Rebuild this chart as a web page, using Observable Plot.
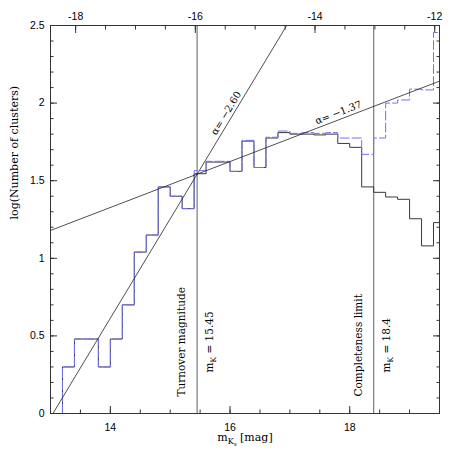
<!DOCTYPE html>
<html><head><meta charset="utf-8">
<script src="https://cdn.jsdelivr.net/npm/d3@7"></script>
<script src="https://cdn.jsdelivr.net/npm/@observablehq/plot@0.6"></script>
<style>
html,body{margin:0;padding:0;background:#fff;}
</style></head><body><div id="chart"></div>
<script>
// ---- data ----
const binStart = [13.0,13.2,13.4,13.6,13.8,14.0,14.2,14.4,14.6,14.8,15.0,15.2,15.4,15.6,15.8,16.0,16.2,16.4,16.6,16.8,17.0,17.2,17.4,17.6,17.8,18.0,18.2,18.4,18.6,18.8,19.0,19.2,19.4];
const binWidth = 0.2;
// log10(number of clusters), observed
const observedLog = [0,0.30,0.48,0.48,0.30,0.48,0.70,1.04,1.15,1.46,1.40,1.32,1.545,1.62,1.62,1.56,1.755,1.585,1.775,1.81,1.80,1.80,1.795,1.80,1.74,1.715,1.46,1.425,1.395,1.38,1.255,1.08,1.23];
// log10(number of clusters), completeness corrected
const correctedLog = [0,0.30,0.48,0.48,0.30,0.48,0.70,1.04,1.15,1.46,1.40,1.32,1.565,1.625,1.625,1.56,1.76,1.585,1.78,1.82,1.805,1.81,1.805,1.81,1.775,1.775,1.67,1.775,2.00,2.02,2.09,2.085,2.455];
// power-law fits through the turnover point
const fitAlpha = [-2.60, -1.37];
const fitLabelM = [16.03, 17.85];
const pivotM = 15.45, pivotLog = 1.542;
// vertical markers
const markerM = [15.45, 18.4];
const markerName = ["Turnover magnitude", "Completeness limit"];
const markerValue = ["m_{K} = 15.45", "m_{K} = 18.4"];
// axes
const distMod = 31.42;
const xLabelTicks = [14, 16, 18];
const xMinorTicks = [13.5,14,14.5,15,15.5,16,16.5,17,17.5,18,18.5,19,19.5];
const topLabelTicks = [-18, -16, -14, -12];
const topMinorTicks = [-18,-17.5,-17,-16.5,-16,-15.5,-15,-14.5,-14,-13.5,-13,-12.5,-12];
const yLabelTicks = [0, 0.5, 1, 1.5, 2, 2.5];
const yMinorTicks = d3.range(0, 26).map(i => i / 10);

// ---- layout ----
const W = 463, H = 463, mL = 50, mR = 24, mT = 25, mB = 50;
const xDom = [13, 19.5], yDom = [0, 2.5];
const pxX = (W - mL - mR) / (xDom[1] - xDom[0]);
const pxY = (H - mT - mB) / (yDom[1] - yDom[0]);

const hist = vals => binStart.map((m, i) => ({m, v: vals[i]}))
  .concat([{m: binStart[binStart.length - 1] + binWidth, v: vals[vals.length - 1]}]);
const fits = fitAlpha.map((a, i) => ({alpha: a, slope: -0.4 * (a + 1), labelM: fitLabelM[i]}));
const fitY = (f, m) => pivotLog + f.slope * (m - pivotM);
const fitLines = fits.flatMap((f, i) => xDom.map(m => ({id: i, m, v: fitY(f, m)})));
const fitLabels = fits.map(f => ({m: f.labelM, v: fitY(f, f.labelM),
  text: "α= −" + Math.abs(f.alpha).toFixed(2),
  rot: -Math.atan(f.slope * pxY / pxX) * 180 / Math.PI}));
const markers = markerM.map((m, i) => ({m, name: markerName[i], value: markerValue[i]}));

const sans = "Liberation Sans, Arial, sans-serif";
const serif = "DejaVu Serif, serif";
const axisCol = "#333";
const labelGap = 3.5;
const fitLabelMarks = fitLabels.map(l => Plot.text([l], {x: "m", y: "v", text: "text", rotate: l.rot,
  lineAnchor: "bottom", dx: labelGap * Math.sin(l.rot * Math.PI / 180), dy: -labelGap * Math.cos(l.rot * Math.PI / 180),
  fontFamily: serif, fontSize: 10, fill: "#000"}));

const plot = Plot.plot({
  width: W, height: H,
  marginLeft: mL, marginRight: mR, marginTop: mT, marginBottom: mB,
  x: {domain: xDom},
  y: {domain: yDom},
  style: {fontFamily: sans, fontSize: "10.5px", color: "#000", background: "#fff"},
  marks: [
    // ticks (inward)
    Plot.axisX(xLabelTicks, {anchor: "bottom", tickSize: -7, fill: null, stroke: axisCol, label: null}),
    Plot.axisX(xMinorTicks, {anchor: "bottom", tickSize: -3.5, fill: null, stroke: axisCol, label: null}),
    Plot.axisX(topLabelTicks.map(d => d + distMod), {anchor: "top", tickSize: -7, fill: null, stroke: axisCol, label: null}),
    Plot.axisX(topMinorTicks.map(d => d + distMod), {anchor: "top", tickSize: -3.5, fill: null, stroke: axisCol, label: null}),
    Plot.axisY(yLabelTicks, {anchor: "left", tickSize: -7, fill: null, stroke: axisCol, label: null}),
    Plot.axisY(yMinorTicks, {anchor: "left", tickSize: -3.5, fill: null, stroke: axisCol, label: null}),
    Plot.axisY(yLabelTicks, {anchor: "right", tickSize: -7, fill: null, stroke: axisCol, label: null}),
    Plot.axisY(yMinorTicks, {anchor: "right", tickSize: -3.5, fill: null, stroke: axisCol, label: null}),
    // tick labels
    Plot.axisX(xLabelTicks, {anchor: "bottom", tickSize: 0, tickPadding: 10, label: null, tickFormat: d => String(d)}),
    Plot.axisX(topLabelTicks.map(d => d + distMod), {anchor: "top", tickSize: 0, tickPadding: 6, label: null,
      tickFormat: d => String(Math.round(d - distMod)).replace("−", "-")}),
    Plot.axisY(yLabelTicks, {anchor: "left", tickSize: 0, tickPadding: 6, label: null, tickFormat: d => String(d)}),
    // vertical markers
    Plot.ruleX(markers, {x: "m", stroke: "#7a7a7a", strokeWidth: 1.2}),
    // histograms
    Plot.line(hist(observedLog), {x: "m", y: "v", curve: "step-after", stroke: "#3a3a3a", strokeWidth: 1, clip: true}),
    Plot.line(hist(correctedLog), {x: "m", y: "v", curve: "step-after", stroke: "#7272f2", strokeWidth: 1, strokeDasharray: "9,3", clip: true}),
    // fits
    Plot.line(fitLines, {x: "m", y: "v", z: "id", stroke: "#222", strokeWidth: 0.8, clip: true}),
    ...fitLabelMarks,
    // marker labels
    Plot.text(markers, {x: "m", text: "name", frameAnchor: "bottom", rotate: -90, textAnchor: "start",
      dx: -12, dy: -17, fontFamily: serif, fontSize: 10.5, fill: "#000"}),
    Plot.text(markers, {x: "m", text: "value", frameAnchor: "bottom", rotate: -90, textAnchor: "start",
      dx: 16, dy: -41, fontFamily: serif, fontSize: 10.5, fill: "#000"}),
    // axis titles
    Plot.text(["m_{K_{s}} [mag]"], {frameAnchor: "bottom", dy: 27, fontFamily: serif, fontSize: 11, fill: "#000"}),
    Plot.text(["log(Number of clusters)"], {frameAnchor: "left", rotate: -90, dx: -36, fontFamily: serif, fontSize: 11, fill: "#000"}),
    Plot.frame({stroke: axisCol, strokeWidth: 1})
  ]
});
document.getElementById("chart").appendChild(plot);

// subscripts: "_{...}" markup -> tspans
function applySubscripts(svg) {
  svg.querySelectorAll("text").forEach(t => {
    const s = t.textContent;
    if (!s.includes("_{")) return;
    const base = parseFloat(getComputedStyle(t).fontSize) || 11;
    const segs = []; let level = 0, buf = "";
    for (let i = 0; i < s.length; i++) {
      if (s[i] === "_" && s[i + 1] === "{") { if (buf) segs.push({text: buf, level}); buf = ""; level++; i++; }
      else if (s[i] === "}") { if (buf) segs.push({text: buf, level}); buf = ""; level--; }
      else buf += s[i];
    }
    if (buf) segs.push({text: buf, level});
    const shift = l => { let y = 0; for (let k = 1; k <= l; k++) y += base * Math.pow(0.72, k - 1) * 0.3; return y; };
    t.textContent = "";
    let cur = 0;
    segs.forEach(sg => {
      const ts = document.createElementNS("http://www.w3.org/2000/svg", "tspan");
      ts.textContent = sg.text;
      ts.setAttribute("font-size", (base * Math.pow(0.72, sg.level)).toFixed(2));
      const dy = shift(sg.level) - shift(cur);
      if (Math.abs(dy) > 1e-6) ts.setAttribute("dy", dy.toFixed(2));
      cur = sg.level;
      t.appendChild(ts);
    });
  });
}
applySubscripts(plot);
</script>
</body></html>
